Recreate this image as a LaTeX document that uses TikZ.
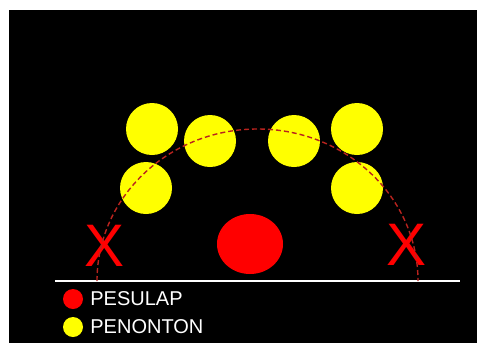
\documentclass[tikz,border=0pt]{standalone}
\usepackage{fontspec}
\setmainfont{Liberation Sans}
\usetikzlibrary{positioning,shapes.geometric}
\definecolor{arcred}{RGB}{185,35,30}
\definecolor{dotyellow}{RGB}{255,255,0}
\definecolor{dotred}{RGB}{255,0,0}
\begin{document}
\begin{tikzpicture}[x=1pt,y=-1pt,
    fan/.style={circle,fill=dotyellow,minimum size=52pt,inner sep=0pt},
    key/.style={circle,minimum size=20pt,inner sep=0pt},
    keytext/.style={text=white,font=\fontsize{20}{22}\selectfont,inner sep=0pt},
    mark x/.style={text=dotred,font=\fontsize{60}{60}\selectfont,inner sep=0pt}]

\useasboundingbox (0,0) rectangle (478,343);
\fill[white] (0,0) rectangle (478,343);
\fill[black] (9,10) rectangle (477,343);

\node[fan] (f1) at (152,129) {};
\node[fan] (f2) at (210,141) {};
\node[fan] (f3) at (294,141) {};
\node[fan] (f4) at (357,129) {};
\node[fan] (f5) at (146,188) {};
\node[fan] (f6) at (357,188) {};

\node[ellipse,fill=dotred,minimum width=66pt,minimum height=60pt,inner sep=0pt] (player) at (250,244) {};

\node[mark x] (xl) at (105,246) {X};
\node[mark x] (xr) at (407,245) {X};

\coordinate (gl) at (55,281);
\coordinate (gr) at (460,281);
\draw[white,line width=2pt] (gl) -- (gr);

\coordinate (al) at (97,281);
\draw[arcred,line width=1.4pt,dash pattern=on 5pt off 3pt] (al) arc[start angle=180,end angle=360,x radius=160.5,y radius=152];

\node[key,fill=dotred] (k1) at (73,299) {};
\node[keytext,right=7pt of k1] {PESULAP};
\node[key,fill=dotyellow] (k2) at (73,327) {};
\node[keytext,right=7pt of k2] {PENONTON};

\end{tikzpicture}
\end{document}
